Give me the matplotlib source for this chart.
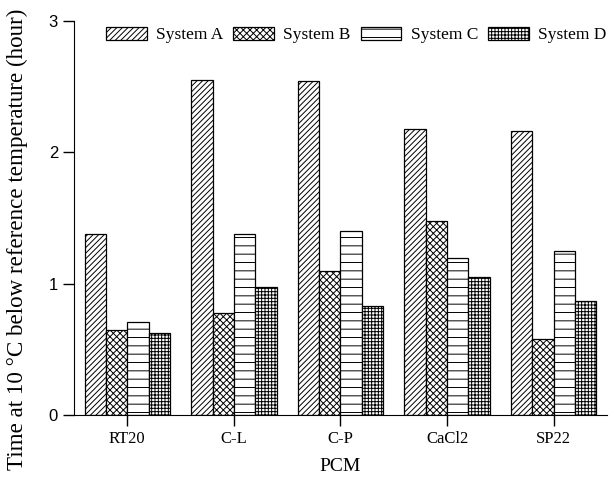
import matplotlib
matplotlib.use("Agg")
import matplotlib.pyplot as plt
import numpy as np

categories = ["RT20", "C-L", "C-P", "CaCl2", "SP22"]
series_names = ["System A", "System B", "System C", "System D"]
system_a = [1.38, 2.55, 2.54, 2.18, 2.16]
system_b = [0.65, 0.78, 1.10, 1.48, 0.58]
system_c = [0.71, 1.38, 1.40, 1.20, 1.25]
system_d = [0.63, 0.98, 0.83, 1.05, 0.87]
yticks = [0, 1, 2, 3]

plt.rcParams['hatch.linewidth'] = 0.7
fig = plt.figure(figsize=(6.14, 4.78), dpi=100)
ax = fig.add_axes([0.1205, 0.131, 0.868, 0.825])

x = np.arange(len(categories))
w = 0.2
hatches = ["//////", "xxxxx", "--", "+++++"]
for i, (vals, name, h) in enumerate(zip([system_a, system_b, system_c, system_d], series_names, hatches)):
    ax.bar(x + (i - 1.5) * w, vals, w, facecolor="white", edgecolor="black",
           linewidth=0.9, hatch=h, label=name)

ax.set_xlim(-0.5, 4.5)
ax.set_ylim(0, 3)
ax.set_yticks(yticks)
ax.set_xticks(x)
ax.set_xticklabels(categories, family="Liberation Serif", fontsize=12)
for t in ax.get_yticklabels():
    t.set_family("Liberation Sans")
    t.set_fontsize(12)
ax.spines["top"].set_visible(False)
ax.spines["right"].set_visible(False)
ax.tick_params(axis="both", direction="out", length=8, width=1)
ax.set_xlabel("PCM", family="Liberation Serif", fontsize=14, labelpad=8)
fig.text(0.028, 0.5, "Time at 10 °C below reference temperature (hour)", rotation=90,
         ha="center", va="center", family="Liberation Serif", fontsize=16.6)
fig.legend(loc="center", bbox_to_anchor=(0.58, 0.927), ncol=4, frameon=False,
           prop={"family": "Liberation Serif", "size": 12.5}, handlelength=2.36,
           handleheight=0.78, columnspacing=0.57, handletextpad=0.52,
           borderpad=0, borderaxespad=0)

fig.savefig("out.png", dpi=100)
